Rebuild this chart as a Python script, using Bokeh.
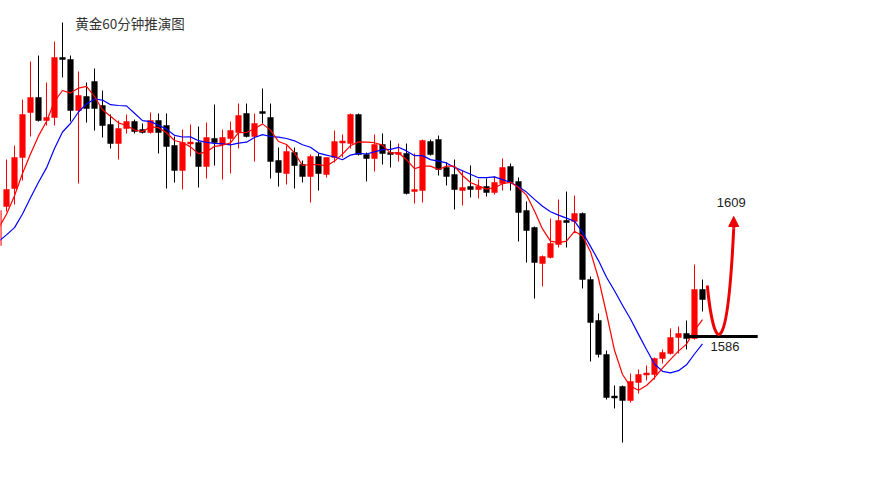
import numpy as np
from bokeh.plotting import figure
from bokeh.models import ColumnDataSource, Arrow, NormalHead, Label
from bokeh.embed import file_html
from bokeh.resources import INLINE

title_text = "黄金60分钟推演图"

# first bar (index -1) is only partly visible at the left edge
opens = [1604.2,
         1612.0, 1615.6, 1621.8, 1630.8, 1633.8, 1629.2, 1629.8, 1641.8, 1641.4, 1631.2,
         1634.0, 1637.0, 1632.2, 1628.4, 1624.6, 1627.6, 1629.0, 1627.4, 1626.8, 1629.2,
         1628.2, 1624.2, 1619.2, 1624.6, 1624.8, 1620.0, 1625.6, 1624.4, 1625.6, 1626.8,
         1630.6, 1626.0, 1631.0, 1629.8, 1621.2, 1618.6, 1622.8, 1620.4, 1618.0, 1622.0,
         1618.4, 1621.8, 1624.8, 1624.6, 1630.4, 1622.4, 1621.6, 1624.4, 1622.8, 1622.4,
         1622.6, 1615.0, 1615.2, 1625.0, 1625.4, 1619.8, 1618.4, 1615.2, 1616.0, 1615.4,
         1616.0, 1614.8, 1616.6, 1620.0, 1617.0, 1611.2, 1607.8, 1600.6, 1601.8, 1604.4,
         1609.2, 1609.0, 1610.6, 1597.4, 1589.2, 1582.4, 1574.0, 1576.0, 1573.2, 1576.8,
         1578.4, 1578.4, 1581.6, 1582.6, 1585.8, 1586.6, 1585.6, 1595.4]
highs = [1612.2,
         1621.4, 1624.2, 1633.4, 1641.0, 1642.2, 1636.8, 1645.0, 1648.8, 1642.2, 1639.0,
         1636.8, 1639.6, 1635.2, 1630.4, 1629.2, 1630.4, 1629.4, 1628.6, 1630.8, 1630.6,
         1630.6, 1626.0, 1627.4, 1628.4, 1628.0, 1628.8, 1632.4, 1627.4, 1629.0, 1632.6,
         1632.6, 1630.6, 1635.6, 1632.6, 1623.8, 1624.2, 1623.8, 1621.2, 1622.4, 1622.6,
         1621.8, 1627.2, 1626.4, 1630.6, 1630.6, 1622.8, 1626.4, 1626.6, 1625.2, 1624.6,
         1624.6, 1622.6, 1625.4, 1625.4, 1626.2, 1620.8, 1621.4, 1619.2, 1620.2, 1617.4,
         1617.6, 1618.0, 1621.6, 1620.6, 1617.8, 1613.0, 1608.0, 1602.2, 1609.6, 1613.4,
         1615.0, 1614.2, 1610.8, 1598.0, 1590.6, 1583.2, 1576.2, 1576.2, 1578.6, 1579.4,
         1580.2, 1581.8, 1583.4, 1587.6, 1588.0, 1589.2, 1600.4, 1597.4]
lows = [1603.2,
        1611.0, 1612.4, 1617.2, 1626.0, 1629.0, 1628.2, 1628.2, 1637.8, 1629.0, 1616.6,
        1628.8, 1627.2, 1625.8, 1623.6, 1621.4, 1626.6, 1626.6, 1626.6, 1626.6, 1622.6,
        1615.6, 1616.8, 1615.4, 1622.0, 1615.8, 1617.6, 1620.2, 1617.4, 1618.6, 1623.6,
        1625.8, 1621.0, 1628.6, 1617.6, 1616.0, 1616.4, 1615.6, 1616.8, 1612.8, 1615.2,
        1617.8, 1620.8, 1621.8, 1623.6, 1622.2, 1617.0, 1619.0, 1620.4, 1619.8, 1621.0,
        1614.4, 1612.6, 1612.8, 1622.2, 1618.2, 1616.2, 1611.4, 1612.2, 1613.8, 1613.6,
        1614.0, 1614.4, 1615.2, 1615.2, 1605.0, 1600.8, 1593.6, 1596.0, 1601.6, 1603.8,
        1603.8, 1606.8, 1595.6, 1581.0, 1581.8, 1573.4, 1571.6, 1564.8, 1572.8, 1574.6,
        1577.2, 1577.4, 1580.6, 1582.4, 1582.6, 1583.4, 1585.4, 1591.0]
closes = [1611.2,
          1615.4, 1621.8, 1630.4, 1633.8, 1629.2, 1629.8, 1641.8, 1641.4, 1631.2, 1634.2,
          1631.6, 1631.6, 1628.2, 1624.6, 1627.6, 1629.0, 1627.0, 1626.8, 1629.2, 1626.8,
          1624.0, 1619.2, 1624.8, 1624.8, 1620.0, 1625.8, 1624.8, 1625.8, 1627.2, 1630.2,
          1626.0, 1628.6, 1630.6, 1621.0, 1618.8, 1623.0, 1620.2, 1618.0, 1622.0, 1618.6,
          1621.8, 1625.0, 1625.0, 1630.4, 1622.4, 1621.6, 1624.4, 1622.6, 1622.4, 1622.8,
          1614.6, 1615.4, 1625.2, 1622.4, 1619.4, 1618.0, 1615.4, 1615.8, 1615.4, 1616.0,
          1614.8, 1616.8, 1619.8, 1616.8, 1610.8, 1607.2, 1600.8, 1602.0, 1604.6, 1609.2,
          1608.8, 1610.6, 1597.4, 1588.8, 1582.4, 1573.8, 1573.8, 1573.2, 1577.0, 1578.4,
          1578.6, 1581.6, 1582.8, 1585.8, 1586.6, 1585.6, 1595.4, 1593.4]
# closes of the bars before the chart window (feed the moving averages only)
warmup_closes = [1602.2, 1607.2, 1603.2, 1601.2, 1598.2, 1601.2, 1603.2, 1608.2, 1614.2]
first_index = -1

fast_period = 5
slow_period = 10

support_level = 1586
support_label = "1586"
target_label = "1609"
# projected path (bar index, price): start, control points, end and arrow tip
path_start = (87.6, 1596.2)
path_ctrl1 = (88.4, 1582.8)
path_ctrl2 = (90.1, 1580.2)
path_end = (90.9, 1607.6)
path_tip = (90.9, 1610.0)
support_span = (84.9, 93.9)
support_label_pos = (88.0, 1584.0)
target_label_pos = (90.6, 1612.8)
title_pos = (8.6, 1648.7)

UP = "#FF0000"
DOWN = "#000000"

n = len(opens)
idx = np.arange(n) + first_index
o = np.array(opens); h = np.array(highs); l = np.array(lows); c = np.array(closes)
up = c >= o
top = np.maximum(o, c)
bot = np.minimum(o, c)
thin = (top - bot) < 0.4
mid = (top + bot) / 2
top = np.where(thin, mid + 0.2, top)
bot = np.where(thin, mid - 0.2, bot)
colors = np.where(up, UP, DOWN)

src = ColumnDataSource(dict(x=idx, h=h, l=l, top=top, bot=bot, color=colors))

allc = np.array(warmup_closes + closes)
def sma(arr, k):
    return np.convolve(arr, np.ones(k) / k, mode="valid")
fast = sma(allc, fast_period)[-n:]
slow = sma(allc, slow_period)[-n:]

p = figure(width=878, height=464, x_range=(-0.75, 109), y_range=(1560.4, 1653.2),
           output_backend="svg", toolbar_location=None,
           x_axis_location=None, y_axis_location=None, min_border=0)
p.grid.visible = False
p.outline_line_color = None
p.background_fill_color = "white"
p.border_fill_color = "white"

p.segment(x0="x", y0="l", x1="x", y1="h", line_color="color", line_width=1, source=src)
p.vbar(x="x", top="top", bottom="bot", width=0.7, fill_color="color", line_color="color",
       line_width=0.5, source=src)

p.line(idx, slow, line_color="#0000FF", line_width=1.2)
p.line(idx, fast, line_color="#FF0000", line_width=1.2)

# support line
p.segment(x0=[support_span[0]], y0=[support_level], x1=[support_span[1]], y1=[support_level],
          line_color="black", line_width=3)

# projected path
p.bezier(x0=[path_start[0]], y0=[path_start[1]], x1=[path_end[0]], y1=[path_end[1]],
         cx0=[path_ctrl1[0]], cy0=[path_ctrl1[1]], cx1=[path_ctrl2[0]], cy1=[path_ctrl2[1]],
         line_color="#EE0000", line_width=3)
p.add_layout(Arrow(end=NormalHead(size=10, fill_color="#EE0000", line_color="#EE0000"),
                   x_start=path_end[0], y_start=path_end[1], x_end=path_tip[0], y_end=path_tip[1],
                   line_color="#EE0000", line_width=3))

p.add_layout(Label(x=support_label_pos[0], y=support_label_pos[1], text=support_label,
                   text_font="Liberation Sans", text_font_size="13px", text_color="#222222",
                   text_baseline="middle", text_align="left"))
p.add_layout(Label(x=target_label_pos[0], y=target_label_pos[1], text=target_label,
                   text_font="Liberation Sans", text_font_size="13px", text_color="#222222",
                   text_baseline="middle", text_align="center"))
p.add_layout(Label(x=title_pos[0], y=title_pos[1], text=title_text,
                   text_font="Noto Sans CJK SC", text_font_size="13.5px", text_color="#333333",
                   text_baseline="middle", text_align="left"))

open("out.html", "w").write(file_html(p, INLINE))
